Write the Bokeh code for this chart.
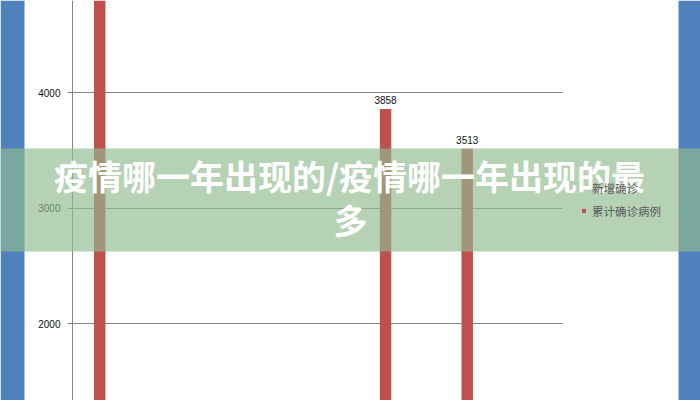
from bokeh.plotting import figure
from bokeh.models import (ColumnDataSource, FixedTicker, BoxAnnotation, Label,
                          Legend, LegendItem, Range1d)
from bokeh.core.properties import value
from bokeh.embed import file_html
from bokeh.resources import INLINE

# ---- data ----
days = [1, 11.5, 14.5]
cum_cases = [5200, 3858, 3513]
bar_labels = ["", "3858", "3513"]
y_ticks = [1000, 2000, 3000, 4000, 5000]
series_names = ["新增确诊", "累计确诊病例"]
title_lines = ["疫情哪一年出现的/疫情哪一年出现的最", "多"]
x_span = (0, 18)

RED = "#C0504D"
BLUE = "#4F81BD"
GRAY = "#868686"

W, H = 700, 400
ppu = 490 / 18.0          # pixels per day unit
ppv = 0.1155              # pixels per case
x0_px = 72                # axis position on canvas
y4000_px = 92
y_top = 4000 + y4000_px / ppv
y_bot = y_top - H / ppv

p = figure(width=W, height=H, output_backend="svg", toolbar_location=None,
           x_range=Range1d(-x0_px / ppu, (W - x0_px) / ppu),
           y_range=Range1d(y_bot, y_top),
           x_axis_location=None, min_border=0,
           min_border_left=0, min_border_right=0,
           min_border_top=0, min_border_bottom=0)
p.outline_line_color = None
p.background_fill_color = "white"
p.border_fill_color = "white"

# axis drawn inside the frame at x = 0
ax = p.yaxis[0]
ax.fixed_location = 0
ax.ticker = FixedTicker(ticks=y_ticks)
ax.axis_line_color = GRAY
ax.major_tick_line_color = GRAY
ax.major_tick_out = 5
ax.major_tick_in = 0
ax.minor_tick_line_color = None
ax.major_label_standoff = 7
ax.major_label_text_font = "Liberation Sans"
ax.major_label_text_font_size = "10px"
ax.major_label_text_color = "#111111"
p.xgrid.visible = False
p.ygrid.ticker = FixedTicker(ticks=y_ticks)
p.ygrid.grid_line_color = GRAY
p.ygrid.cross_bounds = x_span

src = ColumnDataSource(dict(day=days, cases=cum_cases, label=bar_labels))
empty = ColumnDataSource(dict(day=[], cases=[]))
r_new = p.vbar(x="day", top="cases", bottom=0, width=0.42, source=empty,
               fill_color=BLUE, line_color=None)
r_cum = p.vbar(x="day", top="cases", bottom=0, width=0.42, source=src,
               fill_color=RED, line_color=None)
p.text(x="day", y="cases", text="label", source=src, text_align="center",
       text_baseline="alphabetic", y_offset=-9, text_font=value("Liberation Sans"),
       text_font_size="10px", text_color="#111111")

legend = Legend(items=[LegendItem(label=series_names[0], renderers=[r_new]),
                       LegendItem(label=series_names[1], renderers=[r_cum])],
                location=(581, 181), padding=0, margin=0, spacing=6,
                glyph_width=5, glyph_height=5, label_height=17, label_standoff=6,
                label_text_font="Noto Sans CJK SC", label_text_font_size="11.5px",
                label_text_color="#595959", background_fill_alpha=0,
                border_line_color=None)
p.add_layout(legend, "center")

# decorative frame strips
for l, r in [(0, 24), (678, 700)]:
    p.add_layout(BoxAnnotation(left=l, right=r, top=0, bottom=H,
                               left_units="canvas", right_units="canvas",
                               top_units="canvas", bottom_units="canvas",
                               fill_color=BLUE, fill_alpha=1, line_color=None,
                               level="overlay"))
# title banner
p.add_layout(BoxAnnotation(left=0, right=W, top=148, bottom=251,
                           left_units="canvas", right_units="canvas",
                           top_units="canvas", bottom_units="canvas",
                           fill_color="rgb(144,187,144)", fill_alpha=0.665,
                           line_color=None, level="overlay"))
for i, (tx, ty) in enumerate([(349, 175), (350, 219)]):
    p.add_layout(Label(x=tx, y=ty, x_units="canvas", y_units="canvas",
                       text=title_lines[i], text_align="center", text_baseline="middle",
                       text_font="Noto Sans CJK SC", text_font_style="bold",
                       text_font_size="34px", text_color="white", level="overlay"))

open("out.html", "w").write(file_html(p, INLINE))
